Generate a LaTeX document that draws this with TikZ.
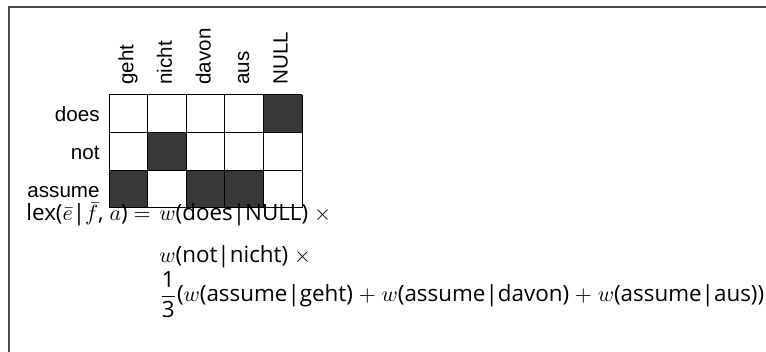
\documentclass[tikz,border=0pt]{standalone}
\usepackage{amsmath}
\usepackage{fontspec}
\setmainfont{Open Sans}
\newfontfamily\labfont{Liberation Sans}
\usetikzlibrary{positioning}

\tikzset{
  collab/.style={rotate=90, anchor=base west, inner sep=0pt,
    font=\labfont\fontsize{10.3}{12}\selectfont},
  rowlab/.style={anchor=base east, inner sep=0pt,
    font=\labfont\fontsize{10.3}{12}\selectfont},
  formula/.style={inner sep=0pt, font=\fontsize{11.2}{13}\selectfont},
  linkcell/.style={fill=black!78},
}

\begin{document}
\begin{tikzpicture}[x=0.5pt, y=0.5pt]
\useasboundingbox (0,0) rectangle (766,352);
% frame
\draw[line width=1pt, black!70] (9,0) -- (9,345) -- (766,345);
% alignment matrix
\foreach \c/\r in {5/1,2/2,1/3,3/3,4/3}
  \fill[linkcell] ({109+(\c-1)*38.6},{257-(\r-1)*37.7}) rectangle ++(38.6,-37.7);
\foreach \c in {0,...,5}
  \draw[line width=0.5pt] ({109+\c*38.6},144) -- ({109+\c*38.6},257);
\foreach \r in {0,...,3}
  \draw[line width=0.5pt] (109,{144+\r*37.7}) -- (302,{144+\r*37.7});
% foreign words
\foreach \w [count=\i] in {geht,nicht,davon,aus,NULL}
  \node[collab] (f\i) at ({109+(\i-0.5)*38.6+5},267) {\w};
% english words
\foreach \w [count=\j] in {does,not,assume}
  \node[rowlab] (e\j) at (100,{230.3-(\j-1)*38.1}) {\w};
% lexical weight
\node[formula, anchor=base east] (lhs) at (151,131) {lex($\bar{e}$|$\bar{f}$, $a$) $=$};
\node[formula, anchor=base west] (t1) at (159,131) {$w$(does|NULL) $\times$};
\node[formula, anchor=base west] (t2) at (159,89) {$w$(not|nicht) $\times$};
\node[formula, anchor=base west] (t3) at (159,50)
  {$\dfrac{\text{1}}{\text{3}}$($w$(assume|geht) $+$ $w$(assume|davon) $+$ $w$(assume|aus))};
\end{tikzpicture}
\end{document}
